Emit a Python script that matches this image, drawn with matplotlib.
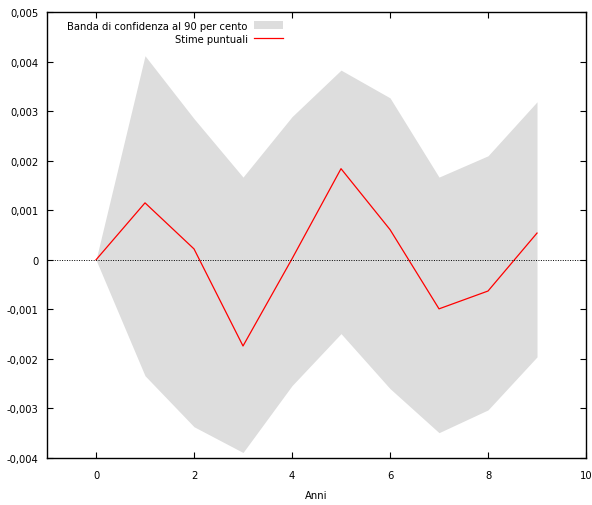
import numpy as np
import matplotlib.pyplot as plt
from matplotlib.ticker import FuncFormatter, MultipleLocator
from matplotlib import font_manager

anni = [0, 1, 2, 3, 4, 5, 6, 7, 8, 9]
stime = [0.0, 0.00115, 0.00022, -0.00174, 0.00002, 0.00184, 0.00061, -0.00099, -0.00063, 0.00054]
banda_sup = [0.0, 0.00412, 0.00285, 0.00167, 0.00289, 0.00383, 0.00327, 0.00167, 0.00210, 0.00319]
banda_inf = [0.0, -0.00234, -0.00337, -0.00389, -0.00254, -0.00149, -0.00260, -0.00349, -0.00303, -0.00196]


def fmt_comma(v, pos):
    if abs(v) < 1e-9:
        return "0"
    return ("%.3f" % v).replace(".", ",")


names = set(f.name for f in font_manager.fontManager.ttflist)
print(sorted(n for n in names if 'DejaVu' in n or 'Narrow' in n or 'Condensed' in n))

plt.rcParams['font.family'] = 'DejaVu Sans'
plt.rcParams['font.stretch'] = 'condensed'
plt.rcParams['font.size'] = 8

fig = plt.figure(figsize=(5.92, 5.06), dpi=100)
ax = fig.add_axes([0.0794, 0.093, 0.9105, 0.881])

ax.fill_between(anni, banda_inf, banda_sup, color='#dddddd', lw=0,
                label='Banda di confidenza al 90 per cento')
ax.plot(anni, stime, color='red', lw=0.9, label='Stime puntuali')
ax.axhline(0, color='black', lw=0.7, ls=(0, (1, 1.5)))

ax.set_xlim(-1, 10)
ax.set_ylim(-0.004, 0.005)
ax.xaxis.set_major_locator(MultipleLocator(2))
ax.yaxis.set_major_locator(MultipleLocator(0.001))
ax.yaxis.set_major_formatter(FuncFormatter(fmt_comma))
ax.tick_params(direction='in', top=True, right=True, length=4, width=0.8, pad=6)
ax.tick_params(axis='x', pad=9)
for s in ax.spines.values():
    s.set_linewidth(1.0)

ax.set_xlabel('Anni', labelpad=7)

leg = ax.legend(loc='upper right', bbox_to_anchor=(0.455, 1.0), frameon=False,
                markerfirst=False, handlelength=2.6, handletextpad=0.6,
                labelspacing=0.25, borderaxespad=0.4, alignment='right')
for t in leg.get_texts():
    t.set_ha('right')

fig.savefig('out.png', dpi=100)
